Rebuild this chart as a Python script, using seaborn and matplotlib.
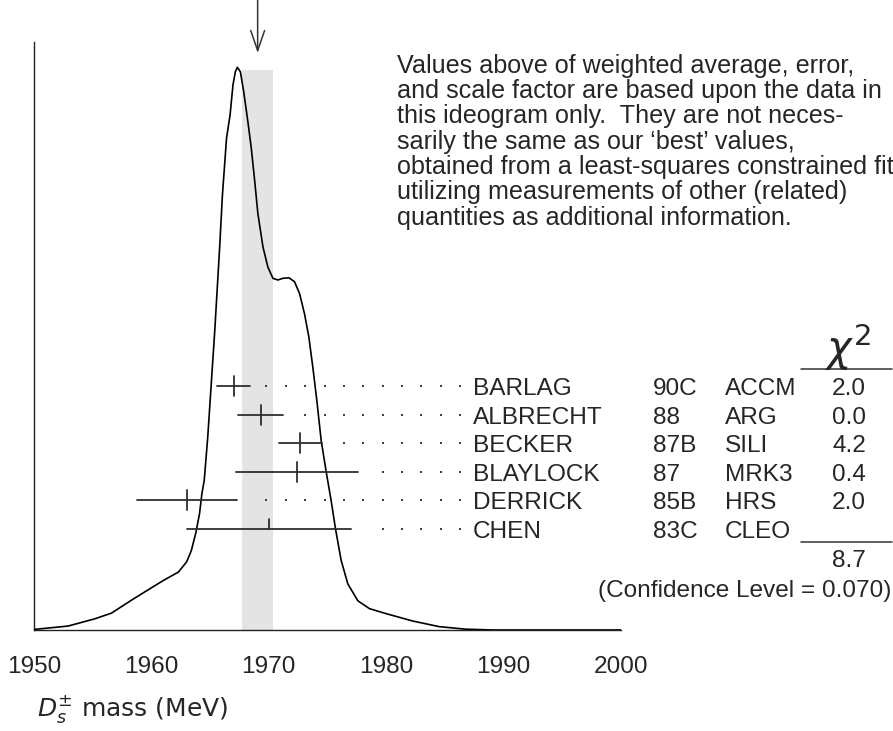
import numpy as np
import pandas as pd
import seaborn as sns
import matplotlib
matplotlib.use("Agg")
import matplotlib.pyplot as plt
from matplotlib.lines import Line2D

sns.set_style("white")
plt.rcParams['font.family'] = ['Liberation Sans', 'DejaVu Sans']
plt.rcParams['mathtext.fontset'] = 'dejavusans'

# measurements (MeV)
names = ["BARLAG", "ALBRECHT", "BECKER", "BLAYLOCK", "DERRICK", "CHEN"]
years = ["90C", "88", "87B", "87", "85B", "83C"]
exps = ["ACCM", "ARG", "SILI", "MRK3", "HRS", "CLEO"]
values = [1967.0, 1969.3, 1972.7, 1972.4, 1963.0, 1970.0]
errors = [1.4, 1.9, 1.8, 5.2, 4.25, 7.0]
chi2 = ["2.0", "0.0", "4.2", "0.4", "2.0", ""]
used = [True, True, True, True, True, False]
chi2_total = "8.7"
conf_level = "0.070"

# weighted average and scaled error
avg = 1969.05
avg_err = 1.35

# ideogram curve (peak = 1)
curve_mass = [1950.0, 1952.9, 1955.2, 1956.6, 1958.3, 1960.0, 1961.1, 1962.3, 1963.0,
              1963.4, 1963.8, 1964.1, 1964.3, 1964.5, 1964.8, 1965.1, 1965.4, 1965.8,
              1966.05, 1966.4, 1966.7, 1966.95, 1967.15, 1967.32, 1967.58, 1967.86,
              1968.22, 1968.51, 1968.79, 1969.07, 1969.5, 1969.92, 1970.35, 1970.77,
              1971.2, 1971.71, 1972.19, 1972.62, 1973.04, 1973.41, 1973.75, 1974.09,
              1974.46, 1974.89, 1975.31, 1975.68, 1976.16, 1976.73, 1977.58, 1978.57,
              1980.0, 1982.25, 1984.5, 1986.8, 1989.1, 2000.0]
curve_height = [0.001, 0.007, 0.020, 0.030, 0.053, 0.075, 0.089, 0.103, 0.121,
                0.141, 0.174, 0.207, 0.242, 0.266, 0.343, 0.438, 0.533, 0.675,
                0.773, 0.874, 0.915, 0.969, 0.992, 1.0, 0.992, 0.957,
                0.903, 0.856, 0.800, 0.740, 0.681, 0.645, 0.625, 0.622,
                0.625, 0.626, 0.619, 0.598, 0.562, 0.521, 0.467, 0.408,
                0.337, 0.281, 0.230, 0.180, 0.124, 0.082, 0.052, 0.038,
                0.029, 0.016, 0.006, 0.0014, 0.0, 0.0]

text_lines = ["Values above of weighted average, error,",
              "and scale factor are based upon the data in",
              "this ideogram only.  They are not neces-",
              "sarily the same as our \u2018best\u2019 values,",
              "obtained from a least-squares constrained fit",
              "utilizing measurements of other (related)",
              "quantities as additional information."]

W, H = 893, 731
unit = 562.7   # pixels per unit of curve height
base = 630     # baseline pixel


def fx(x):
    return x / W


def fy(y):
    return 1 - y / H


fig = plt.figure(figsize=(W / 100, H / 100), dpi=100)
ax = fig.add_axes([fx(34), fy(base), 587 / W, 588 / H])
ax.set_xlim(1950, 2000)
ax.set_ylim(0, 588 / unit)

df = pd.DataFrame({"mass": curve_mass, "height": curve_height})
sns.lineplot(data=df, x="mass", y="height", ax=ax, color="black", lw=1.2, zorder=4)

# band of weighted average
ax.fill_between([avg - avg_err, avg + avg_err], 0, (base - 70) / unit,
                color="#e4e4e4", lw=0, zorder=0)

# arrow at average
ax.annotate("", xy=(avg, (base - 53) / unit), xytext=(avg, base / unit),
            arrowprops=dict(arrowstyle="->,head_length=1.45,head_width=0.5",
                            mutation_scale=10, color="#333333", lw=1.1,
                            shrinkA=0, shrinkB=0),
            annotation_clip=False)

# measurements
half = 10 / unit
grid = 1969.8 + 1.65 * np.arange(-12, 11)
for k, (v, e) in enumerate(zip(values, errors)):
    yrow = (base - (386 + 28.6 * k)) / unit
    ax.plot([v - e, v + e], [yrow, yrow], color="#2e2e2e", lw=1.3,
            zorder=5, clip_on=False)
    lo = yrow - half if used[k] else yrow
    ax.plot([v, v], [lo, yrow + half], color="#2e2e2e", lw=1.3,
            zorder=5, clip_on=False)
    dots = grid[grid > v + e + 1.2]
    ax.plot(dots, [yrow] * len(dots), ls="none", marker="s", ms=1.8,
            color="#404040", mew=0, zorder=3)
    yb = fy(395 + 28.6 * k)
    fig.text(fx(473), yb, names[k], fontsize=17.6, va="baseline")
    fig.text(fx(653), yb, years[k], fontsize=17.6, va="baseline")
    fig.text(fx(725), yb, exps[k], fontsize=17.6, va="baseline")
    fig.text(fx(866), yb, chi2[k], fontsize=17.6, va="baseline", ha="right")

# chi2 column
fig.text(fx(848), fy(362), r"$\chi^2$", fontsize=30, ha="center", va="baseline")
fig.add_artist(Line2D([fx(801), fx(892)], [fy(369), fy(369)], color="#333333", lw=1.1))
fig.add_artist(Line2D([fx(801), fx(892)], [fy(542), fy(542)], color="#333333", lw=1.1))
fig.text(fx(866), fy(567), chi2_total, fontsize=17.6, ha="right", va="baseline")
fig.text(fx(891), fy(597), "(Confidence Level = " + conf_level + ")",
         fontsize=17.6, ha="right", va="baseline")

# explanatory text
for k, line in enumerate(text_lines):
    fig.text(fx(397), fy(72.7 + 25.3 * k), line, fontsize=18.1, va="baseline")

# axes styling
for s in ["top", "right"]:
    ax.spines[s].set_visible(False)
for s in ["left", "bottom"]:
    ax.spines[s].set_color("#222222")
    ax.spines[s].set_linewidth(1.0)
ax.set_yticks([])
ax.set_xticks([1950, 1960, 1970, 1980, 1990, 2000])
ax.set_xticklabels(["1950", "1960", "1970", "1980", "1990", "2000"])
ax.tick_params(axis="x", direction="in", length=13, width=0.9, color="#222222",
               labelsize=17.6, pad=18.5)
ax.set_xlabel("")
ax.set_ylabel("")

fig.text(fx(37), fy(716), r"$D_s^{\pm}$ mass (MeV)", fontsize=18,
         family="DejaVu Sans", va="baseline")

fig.savefig("out.png", dpi=100)
